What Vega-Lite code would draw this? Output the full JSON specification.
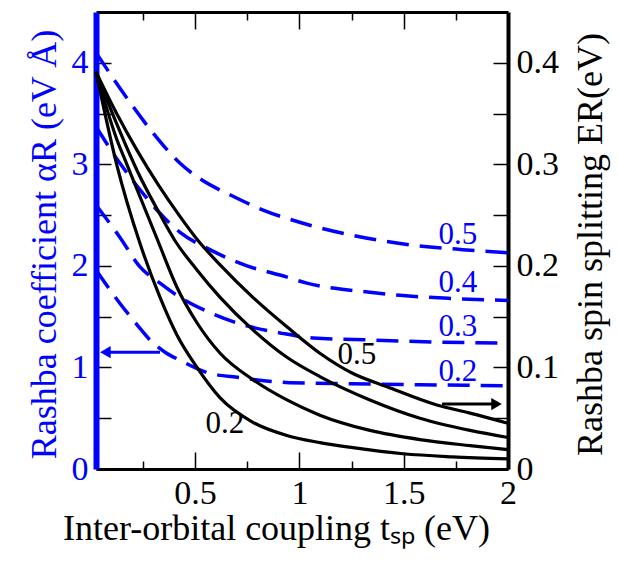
{
  "$schema": "https://vega.github.io/schema/vega-lite/v6.json",
  "width": 412,
  "height": 457,
  "autosize": "none",
  "padding": {"left": 96, "top": 12, "right": 110, "bottom": 93},
  "background": "white",
  "config": {
    "view": {"stroke": null},
    "font": "Liberation Serif",
    "axis": {"grid": false, "labelFont": "Liberation Serif", "titleFont": "Liberation Serif", "titleFontWeight": "normal", "labelFontSize": 34, "titleFontSize": 36, "labelColor": "black", "titleColor": "black", "tickColor": "black", "domainColor": "black", "labelFlush": false, "labelOverlap": false}
  },
  "datasets": {
    "alpha": [
      {"p": "0.5", "t": 0.025, "a": 4.10}, {"p": "0.5", "t": 0.14, "a": 3.75}, {"p": "0.5", "t": 0.298, "a": 3.31}, {"p": "0.5", "t": 0.428, "a": 3.01}, {"p": "0.5", "t": 0.537, "a": 2.84}, {"p": "0.5", "t": 0.667, "a": 2.70}, {"p": "0.5", "t": 0.826, "a": 2.55}, {"p": "0.5", "t": 1.017, "a": 2.42}, {"p": "0.5", "t": 1.257, "a": 2.30}, {"p": "0.5", "t": 1.483, "a": 2.22}, {"p": "0.5", "t": 1.783, "a": 2.16}, {"p": "0.5", "t": 2.0, "a": 2.13},
      {"p": "0.4", "t": 0.025, "a": 3.37}, {"p": "0.4", "t": 0.14, "a": 3.01}, {"p": "0.4", "t": 0.236, "a": 2.75}, {"p": "0.4", "t": 0.317, "a": 2.55}, {"p": "0.4", "t": 0.428, "a": 2.33}, {"p": "0.4", "t": 0.571, "a": 2.16}, {"p": "0.4", "t": 0.749, "a": 2.00}, {"p": "0.4", "t": 0.907, "a": 1.91}, {"p": "0.4", "t": 1.036, "a": 1.83}, {"p": "0.4", "t": 1.338, "a": 1.74}, {"p": "0.4", "t": 1.483, "a": 1.71}, {"p": "0.4", "t": 1.724, "a": 1.68}, {"p": "0.4", "t": 2.0, "a": 1.66},
      {"p": "0.3", "t": 0.025, "a": 2.60}, {"p": "0.3", "t": 0.14, "a": 2.28}, {"p": "0.3", "t": 0.236, "a": 1.99}, {"p": "0.3", "t": 0.332, "a": 1.83}, {"p": "0.3", "t": 0.428, "a": 1.69}, {"p": "0.3", "t": 0.571, "a": 1.54}, {"p": "0.3", "t": 0.73, "a": 1.42}, {"p": "0.3", "t": 0.907, "a": 1.34}, {"p": "0.3", "t": 1.065, "a": 1.29}, {"p": "0.3", "t": 1.353, "a": 1.27}, {"p": "0.3", "t": 1.659, "a": 1.25}, {"p": "0.3", "t": 2.0, "a": 1.24},
      {"p": "0.2", "t": 0.025, "a": 1.96}, {"p": "0.2", "t": 0.14, "a": 1.63}, {"p": "0.2", "t": 0.222, "a": 1.42}, {"p": "0.2", "t": 0.284, "a": 1.27}, {"p": "0.2", "t": 0.356, "a": 1.15}, {"p": "0.2", "t": 0.428, "a": 1.07}, {"p": "0.2", "t": 0.557, "a": 0.95}, {"p": "0.2", "t": 0.716, "a": 0.90}, {"p": "0.2", "t": 0.953, "a": 0.85}, {"p": "0.2", "t": 1.243, "a": 0.84}, {"p": "0.2", "t": 1.575, "a": 0.83}, {"p": "0.2", "t": 2.0, "a": 0.82}
    ],
    "alphaLabels": [
      {"t": 1.76, "a": 2.30, "label": "0.5"},
      {"t": 1.76, "a": 1.83, "label": "0.4"},
      {"t": 1.76, "a": 1.40, "label": "0.3"},
      {"t": 1.76, "a": 0.955, "label": "0.2"}
    ],
    "alphaArrow": [{"t": 0.07, "t2": 0.332, "a": 1.15}],
    "alphaHead": [{"t": 0.07, "a": 1.15}],
    "er": [
      {"p": "0.2", "t": 0.025, "e": 0.391}, {"p": "0.2", "t": 0.124, "e": 0.300}, {"p": "0.2", "t": 0.236, "e": 0.222}, {"p": "0.2", "t": 0.332, "e": 0.169}, {"p": "0.2", "t": 0.413, "e": 0.132}, {"p": "0.2", "t": 0.509, "e": 0.100}, {"p": "0.2", "t": 0.62, "e": 0.070}, {"p": "0.2", "t": 0.777, "e": 0.046}, {"p": "0.2", "t": 0.94, "e": 0.033}, {"p": "0.2", "t": 1.098, "e": 0.026}, {"p": "0.2", "t": 1.257, "e": 0.021}, {"p": "0.2", "t": 1.496, "e": 0.015}, {"p": "0.2", "t": 1.733, "e": 0.012}, {"p": "0.2", "t": 2.0, "e": 0.010},
      {"p": "0.3", "t": 0.025, "e": 0.391}, {"p": "0.3", "t": 0.124, "e": 0.325}, {"p": "0.3", "t": 0.173, "e": 0.300}, {"p": "0.3", "t": 0.321, "e": 0.225}, {"p": "0.3", "t": 0.413, "e": 0.179}, {"p": "0.3", "t": 0.509, "e": 0.144}, {"p": "0.3", "t": 0.62, "e": 0.114}, {"p": "0.3", "t": 0.777, "e": 0.088}, {"p": "0.3", "t": 0.94, "e": 0.068}, {"p": "0.3", "t": 1.098, "e": 0.053}, {"p": "0.3", "t": 1.338, "e": 0.038}, {"p": "0.3", "t": 1.578, "e": 0.029}, {"p": "0.3", "t": 1.818, "e": 0.023}, {"p": "0.3", "t": 2.0, "e": 0.019},
      {"p": "0.4", "t": 0.025, "e": 0.391}, {"p": "0.4", "t": 0.124, "e": 0.340}, {"p": "0.4", "t": 0.224, "e": 0.293}, {"p": "0.4", "t": 0.323, "e": 0.254}, {"p": "0.4", "t": 0.403, "e": 0.225}, {"p": "0.4", "t": 0.509, "e": 0.196}, {"p": "0.4", "t": 0.62, "e": 0.169}, {"p": "0.4", "t": 0.777, "e": 0.137}, {"p": "0.4", "t": 0.94, "e": 0.110}, {"p": "0.4", "t": 1.098, "e": 0.091}, {"p": "0.4", "t": 1.338, "e": 0.068}, {"p": "0.4", "t": 1.578, "e": 0.050}, {"p": "0.4", "t": 1.818, "e": 0.038}, {"p": "0.4", "t": 2.0, "e": 0.031},
      {"p": "0.5", "t": 0.025, "e": 0.391}, {"p": "0.5", "t": 0.124, "e": 0.350}, {"p": "0.5", "t": 0.224, "e": 0.313}, {"p": "0.5", "t": 0.323, "e": 0.280}, {"p": "0.5", "t": 0.423, "e": 0.250}, {"p": "0.5", "t": 0.514, "e": 0.225}, {"p": "0.5", "t": 0.62, "e": 0.201}, {"p": "0.5", "t": 0.777, "e": 0.169}, {"p": "0.5", "t": 0.94, "e": 0.140}, {"p": "0.5", "t": 1.098, "e": 0.114}, {"p": "0.5", "t": 1.257, "e": 0.094}, {"p": "0.5", "t": 1.42, "e": 0.081}, {"p": "0.5", "t": 1.659, "e": 0.063}, {"p": "0.5", "t": 1.818, "e": 0.055}, {"p": "0.5", "t": 2.0, "e": 0.045}
    ],
    "erLabels": [
      {"t": 1.276, "e": 0.112, "label": "0.5"},
      {"t": 0.643, "e": 0.044, "label": "0.2"}
    ],
    "erArrow": [{"t": 1.684, "t2": 1.945, "e": 0.064}],
    "erHead": [{"t": 1.945, "e": 0.064}]
  },
  "layer": [
    {
      "encoding": {
        "x": {
          "field": "t", "type": "quantitative",
          "scale": {"domain": [0.025, 2], "nice": false, "zero": false},
          "axis": {
            "orient": "bottom",
            "values": [0.25, 0.5, 0.75, 1, 1.25, 1.5, 1.75, 2],
            "labelExpr": "datum.value % 0.5 === 0 ? '' + datum.value : ''",
            "domainWidth": 3,
            "tickWidth": 1.5,
            "tickSize": {"condition": {"test": "datum.value % 0.5 === 0", "value": -17}, "value": -8},
            "labelPadding": 24,
            "title": "Inter-orbital coupling tₛₚ (eV)",
            "titleX": 180,
            "titlePadding": -8
          }
        },
        "y": {
          "field": "a", "type": "quantitative",
          "scale": {"domain": [0, 4.5], "nice": false, "zero": false},
          "axis": {
            "orient": "left",
            "values": [0, 0.5, 1, 1.5, 2, 2.5, 3, 3.5, 4],
            "labelExpr": "datum.value % 1 === 0 ? '' + datum.value : ''",
            "domainColor": "#0000ff",
            "domainWidth": 6,
            "tickWidth": 1.5,
            "tickSize": -15,
            "labelColor": "#0000ff",
            "labelPadding": 23,
            "title": "Rashba coefficient  αR (eV Å)",
            "titleColor": "#0000ff",
            "titlePadding": 8,
            "titleY": 232
          }
        }
      },
      "layer": [
        {"data": {"name": "alpha"}, "mark": {"type": "line", "color": "#0000ff", "strokeDash": [22, 11], "strokeWidth": 3.5, "interpolate": "monotone"}, "encoding": {"detail": {"field": "p"}}},
        {"data": {"name": "alphaLabels"}, "mark": {"type": "text", "color": "#0000ff", "fontSize": 31, "font": "Liberation Serif"}, "encoding": {"text": {"field": "label"}}},
        {"data": {"name": "alphaArrow"}, "mark": {"type": "rule", "color": "#0000ff", "strokeWidth": 3}, "encoding": {"x2": {"field": "t2"}}},
        {"data": {"name": "alphaHead"}, "mark": {"type": "point", "shape": "triangle-left", "filled": true, "color": "#0000ff", "opacity": 1, "size": 150}}
      ]
    },
    {
      "encoding": {
        "x": {
          "field": "t", "type": "quantitative",
          "scale": {"domain": [0.025, 2], "nice": false, "zero": false},
          "axis": {
            "orient": "top",
            "values": [0.25, 0.5, 0.75, 1, 1.25, 1.5, 1.75],
            "labels": false,
            "domainWidth": 3,
            "tickWidth": 1.5,
            "tickSize": {"condition": {"test": "datum.value % 0.5 === 0", "value": -17}, "value": -8},
            "title": null
          }
        },
        "y": {
          "field": "e", "type": "quantitative",
          "scale": {"domain": [0, 0.45], "nice": false, "zero": false},
          "axis": {
            "orient": "right",
            "values": [0, 0.05, 0.1, 0.15, 0.2, 0.25, 0.3, 0.35, 0.4],
            "labelExpr": "round(datum.value * 100) % 10 === 0 ? format(datum.value, '~g') : ''",
            "domainWidth": 4,
            "tickWidth": 1.5,
            "tickSize": -15,
            "labelPadding": 23,
            "title": "Rashba spin splitting ER(eV)",
            "titleAngle": 270,
            "titleBaseline": "top",
            "titlePadding": 15,
            "titleY": 232
          }
        }
      },
      "layer": [
        {"data": {"name": "er"}, "mark": {"type": "line", "color": "black", "strokeWidth": 3.2, "interpolate": "monotone"}, "encoding": {"detail": {"field": "p"}}},
        {"data": {"name": "erLabels"}, "mark": {"type": "text", "color": "black", "fontSize": 31, "font": "Liberation Serif"}, "encoding": {"text": {"field": "label"}}},
        {"data": {"name": "erArrow"}, "mark": {"type": "rule", "color": "black", "strokeWidth": 3}, "encoding": {"x2": {"field": "t2"}}},
        {"data": {"name": "erHead"}, "mark": {"type": "point", "shape": "triangle-right", "filled": true, "color": "black", "opacity": 1, "size": 150}}
      ]
    }
  ],
  "resolve": {"scale": {"y": "independent"}, "axis": {"x": "independent"}}
}
